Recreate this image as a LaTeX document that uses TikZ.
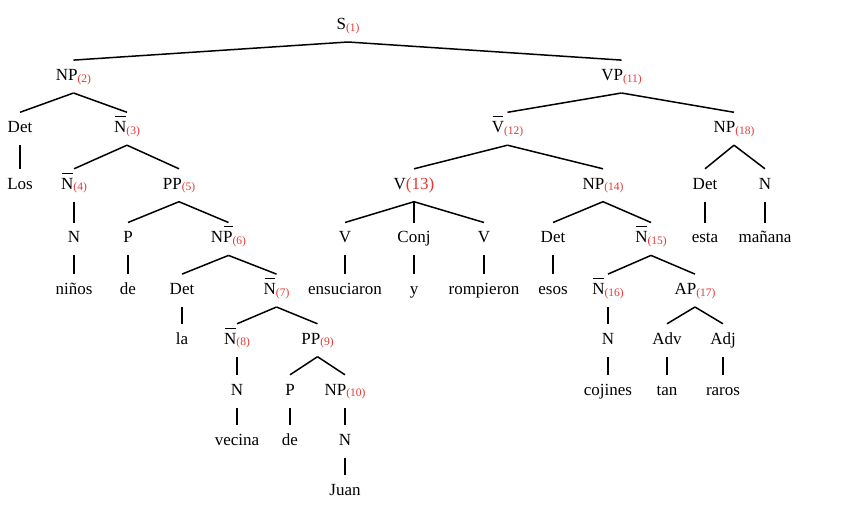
\documentclass[tikz,border=0pt]{standalone}
\usepackage{fontspec}
\setmainfont{Liberation Serif}
\usepackage{xcolor}
\usepackage{tikz}
\usetikzlibrary{positioning}
\definecolor{idxred}{RGB}{232,52,52}
\newcommand{\rsub}[1]{{\color{idxred}\fontsize{11.5}{12}\selectfont\raisebox{-1.8pt}{(#1)}}}
\newcommand{\barred}[2]{\makebox[0pt][l]{\hspace{0.9pt}\rule[15.4pt]{#2}{1.1pt}}#1}
\newcommand{\Nbar}{\barred{N}{10.6pt}}
\newcommand{\Vbar}{\barred{V}{10.6pt}}
\newcommand{\Pbar}{\barred{P}{8.4pt}}
\begin{document}
\begin{tikzpicture}[x=1pt,y=-1pt,
  lab/.style={anchor=base,inner sep=1pt,text height=19pt,text depth=11.5pt,font=\fontsize{17}{20}\selectfont},
  edge/.style={line width=1.5pt}]
\useasboundingbox (0,0) rectangle (842,527);
\node[lab] (s1) at (348,29.3) {S\rsub{1}};
\node[lab] (np2) at (73.5,80.3) {NP\rsub{2}};
\node[lab] (vp11) at (621.5,80.3) {VP\rsub{11}};
\node[lab] (det1) at (20,132.5) {Det};
\node[lab] (nb3) at (127,132.5) {\Nbar\rsub{3}};
\node[lab] (vb12) at (507.5,132.5) {\Vbar\rsub{12}};
\node[lab] (np18) at (734,132.5) {NP\rsub{18}};
\node[lab] (los) at (20,189) {Los};
\node[lab] (nb4) at (74,189) {\Nbar\rsub{4}};
\node[lab] (pp5) at (179,189) {PP\rsub{5}};
\node[lab] (v13) at (414,189) {V{\color{idxred}(13)}};
\node[lab] (np14) at (603,189) {NP\rsub{14}};
\node[lab] (det4) at (705,189) {Det};
\node[lab] (n18) at (765,189) {N};
\node[lab] (n4) at (74,242.7) {N};
\node[lab] (p5) at (128,242.7) {P};
\node[lab] (np6) at (228.5,242.7) {N\Pbar\rsub{6}};
\node[lab] (va) at (345,242.7) {V};
\node[lab] (conj) at (414,242.7) {Conj};
\node[lab] (vb) at (484,242.7) {V};
\node[lab] (det14) at (553,242.7) {Det};
\node[lab] (nb15) at (651,242.7) {\Nbar\rsub{15}};
\node[lab] (esta) at (705,242.7) {esta};
\node[lab] (manana) at (765,242.7) {mañana};
\node[lab] (ninos) at (74,294.3) {niños};
\node[lab] (de5) at (128,294.3) {de};
\node[lab] (det6) at (182,294.3) {Det};
\node[lab] (nb7) at (276.5,294.3) {\Nbar\rsub{7}};
\node[lab] (ensuciaron) at (345,294.3) {ensuciaron};
\node[lab] (y) at (414,294.3) {y};
\node[lab] (rompieron) at (484,294.3) {rompieron};
\node[lab] (esos) at (553,294.3) {esos};
\node[lab] (nb16) at (608,294.3) {\Nbar\rsub{16}};
\node[lab] (ap17) at (695,294.3) {AP\rsub{17}};
\node[lab] (la) at (182,344) {la};
\node[lab] (nb8) at (237,344) {\Nbar\rsub{8}};
\node[lab] (pp9) at (317.5,344) {PP\rsub{9}};
\node[lab] (n16) at (608,344) {N};
\node[lab] (adv) at (667,344) {Adv};
\node[lab] (adj) at (723,344) {Adj};
\node[lab] (n8) at (237,395) {N};
\node[lab] (p9) at (290,395) {P};
\node[lab] (np10) at (345,395) {NP\rsub{10}};
\node[lab] (cojines) at (608,395) {cojines};
\node[lab] (tan) at (667,395) {tan};
\node[lab] (raros) at (723,395) {raros};
\node[lab] (vecina) at (237,445) {vecina};
\node[lab] (de9) at (290,445) {de};
\node[lab] (n10) at (345,445) {N};
\node[lab] (juan) at (345,495) {Juan};
\draw[edge] (s1.south) -- (np2.north);
\draw[edge] (s1.south) -- (vp11.north);
\draw[edge] (np2.south) -- (det1.north);
\draw[edge] (np2.south) -- (nb3.north);
\draw[edge] (det1.south) -- (los.north);
\draw[edge] (nb3.south) -- (nb4.north);
\draw[edge] (nb3.south) -- (pp5.north);
\draw[edge] (nb4.south) -- (n4.north);
\draw[edge] (n4.south) -- (ninos.north);
\draw[edge] (pp5.south) -- (p5.north);
\draw[edge] (pp5.south) -- (np6.north);
\draw[edge] (p5.south) -- (de5.north);
\draw[edge] (np6.south) -- (det6.north);
\draw[edge] (np6.south) -- (nb7.north);
\draw[edge] (det6.south) -- (la.north);
\draw[edge] (nb7.south) -- (nb8.north);
\draw[edge] (nb7.south) -- (pp9.north);
\draw[edge] (nb8.south) -- (n8.north);
\draw[edge] (n8.south) -- (vecina.north);
\draw[edge] (pp9.south) -- (p9.north);
\draw[edge] (pp9.south) -- (np10.north);
\draw[edge] (p9.south) -- (de9.north);
\draw[edge] (np10.south) -- (n10.north);
\draw[edge] (n10.south) -- (juan.north);
\draw[edge] (vp11.south) -- (vb12.north);
\draw[edge] (vp11.south) -- (np18.north);
\draw[edge] (vb12.south) -- (v13.north);
\draw[edge] (vb12.south) -- (np14.north);
\draw[edge] (v13.south) -- (va.north);
\draw[edge] (v13.south) -- (conj.north);
\draw[edge] (v13.south) -- (vb.north);
\draw[edge] (va.south) -- (ensuciaron.north);
\draw[edge] (conj.south) -- (y.north);
\draw[edge] (vb.south) -- (rompieron.north);
\draw[edge] (np14.south) -- (det14.north);
\draw[edge] (np14.south) -- (nb15.north);
\draw[edge] (det14.south) -- (esos.north);
\draw[edge] (nb15.south) -- (nb16.north);
\draw[edge] (nb15.south) -- (ap17.north);
\draw[edge] (nb16.south) -- (n16.north);
\draw[edge] (n16.south) -- (cojines.north);
\draw[edge] (ap17.south) -- (adv.north);
\draw[edge] (ap17.south) -- (adj.north);
\draw[edge] (adv.south) -- (tan.north);
\draw[edge] (adj.south) -- (raros.north);
\draw[edge] (np18.south) -- (det4.north);
\draw[edge] (np18.south) -- (n18.north);
\draw[edge] (det4.south) -- (esta.north);
\draw[edge] (n18.south) -- (manana.north);
\end{tikzpicture}
\end{document}
